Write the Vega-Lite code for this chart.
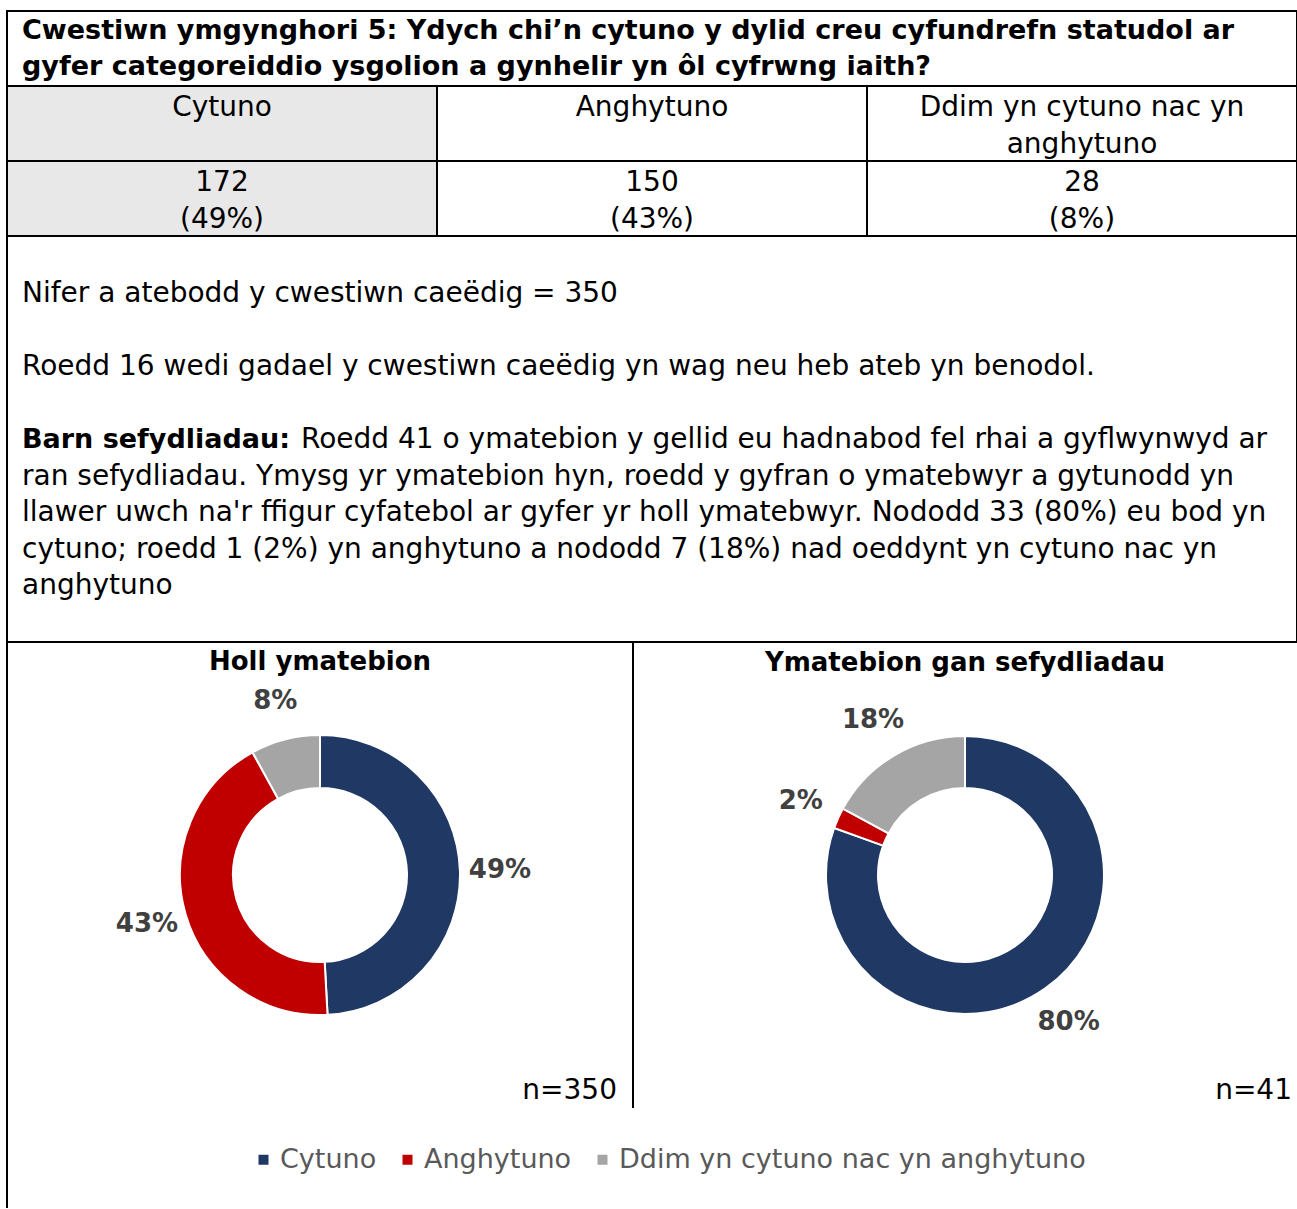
{
  "$schema": "https://vega.github.io/schema/vega-lite/v6.json",
  "padding": {"left": 5, "top": 10, "right": 0, "bottom": 0},
  "spacing": 0,
  "bounds": "flush",
  "config": {"font": "DejaVu Sans", "view": {"stroke": null}, "concat": {"spacing": 0}},
  "resolve": {"legend": {"color": "independent"}},
  "datasets": {
    "title": [
      {"line": 0, "text": "Cwestiwn ymgynghori 5: Ydych chi’n cytuno y dylid creu cyfundrefn statudol ar"},
      {"line": 1, "text": "gyfer categoreiddio ysgolion a gynhelir yn ôl cyfrwng iaith?"}
    ],
    "table": [
      {"row": "pennawd", "col": "Cytuno", "label": "Cytuno"},
      {"row": "pennawd", "col": "Anghytuno", "label": "Anghytuno"},
      {"row": "pennawd", "col": "Ddim yn cytuno nac yn anghytuno", "label": "Ddim yn cytuno nac yn\nanghytuno"},
      {"row": "gwerth", "col": "Cytuno", "label": "172\n(49%)"},
      {"row": "gwerth", "col": "Anghytuno", "label": "150\n(43%)"},
      {"row": "gwerth", "col": "Ddim yn cytuno nac yn anghytuno", "label": "28\n(8%)"}
    ],
    "para": [
      {"line": 0, "kind": "plain", "text": "Nifer a atebodd y cwestiwn caeëdig = 350"},
      {"line": 2, "kind": "plain", "text": "Roedd 16 wedi gadael y cwestiwn caeëdig yn wag neu heb ateb yn benodol."},
      {"line": 4, "kind": "lead", "text": "Barn sefydliadau:"},
      {"line": 4, "kind": "after-lead", "text": "Roedd 41 o ymatebion y gellid eu hadnabod fel rhai a gyflwynwyd ar"},
      {"line": 5, "kind": "plain", "text": "ran sefydliadau. Ymysg yr ymatebion hyn, roedd y gyfran o ymatebwyr a gytunodd yn"},
      {"line": 6, "kind": "plain", "text": "llawer uwch na'r ffigur cyfatebol ar gyfer yr holl ymatebwyr. Nododd 33 (80%) eu bod yn"},
      {"line": 7, "kind": "plain", "text": "cytuno; roedd 1 (2%) yn anghytuno a nododd 7 (18%) nad oeddynt yn cytuno nac yn"},
      {"line": 8, "kind": "plain", "text": "anghytuno"}
    ],
    "all": [
      {"cat": "Cytuno", "idx": 1, "n": 172, "pct": "49%"},
      {"cat": "Anghytuno", "idx": 2, "n": 150, "pct": "43%"},
      {"cat": "Ddim yn cytuno nac yn anghytuno", "idx": 3, "n": 28, "pct": "8%"}
    ],
    "org": [
      {"cat": "Cytuno", "idx": 1, "n": 33, "pct": "80%"},
      {"cat": "Anghytuno", "idx": 2, "n": 1, "pct": "2%"},
      {"cat": "Ddim yn cytuno nac yn anghytuno", "idx": 3, "n": 7, "pct": "18%"}
    ]
  },
  "vconcat": [
    {
      "width": 1290, "height": 75,
      "view": {"stroke": "black", "strokeWidth": 2},
      "data": {"name": "title"},
      "mark": {"type": "text", "align": "left", "baseline": "middle", "fontSize": 27, "fontWeight": "bold", "dx": 15, "color": "black"},
      "encoding": {
        "x": {"value": 0},
        "y": {"field": "line", "type": "quantitative", "scale": {"domain": [-0.556, 1.528], "reverse": true, "nice": false, "zero": false}, "axis": null},
        "text": {"field": "text"}
      }
    },
    {
      "width": 1290, "height": 150,
      "view": {"stroke": "black", "strokeWidth": 2},
      "data": {"name": "table"},
      "encoding": {
        "x": {"field": "col", "type": "ordinal", "sort": ["Cytuno", "Anghytuno", "Ddim yn cytuno nac yn anghytuno"], "scale": {"paddingInner": 0, "paddingOuter": 0}, "axis": null},
        "y": {"field": "row", "type": "ordinal", "sort": ["pennawd", "gwerth"], "scale": {"paddingInner": 0, "paddingOuter": 0}, "axis": null}
      },
      "layer": [
        {
          "mark": {"type": "rect", "stroke": "black", "strokeWidth": 2},
          "encoding": {
            "fill": {"field": "col", "type": "nominal", "scale": {"domain": ["Cytuno", "Anghytuno", "Ddim yn cytuno nac yn anghytuno"], "range": ["#E8E8E8", "#FFFFFF", "#FFFFFF"]}, "legend": null}
          }
        },
        {
          "mark": {"type": "text", "baseline": "alphabetic", "dy": 30, "fontSize": 28, "lineBreak": "\n", "lineHeight": 37, "color": "black"},
          "encoding": {
            "y": {"field": "row", "type": "ordinal", "sort": ["pennawd", "gwerth"], "bandPosition": 0, "axis": null},
            "text": {"field": "label"}
          }
        }
      ]
    },
    {
      "width": 1290, "height": 406,
      "view": {"stroke": "black", "strokeWidth": 2},
      "data": {"name": "para"},
      "encoding": {
        "x": {"value": 0},
        "y": {"field": "line", "type": "quantitative", "scale": {"domain": [-1.589, 9.534], "reverse": true, "nice": false, "zero": false}, "axis": null},
        "text": {"field": "text"}
      },
      "layer": [
        {"transform": [{"filter": "datum.kind == 'plain'"}], "mark": {"type": "text", "align": "left", "baseline": "middle", "fontSize": 28, "dx": 15, "color": "black"}},
        {"transform": [{"filter": "datum.kind == 'lead'"}], "mark": {"type": "text", "align": "left", "baseline": "middle", "fontSize": 27, "fontWeight": "bold", "dx": 15, "color": "black"}},
        {"transform": [{"filter": "datum.kind == 'after-lead'"}], "mark": {"type": "text", "align": "left", "baseline": "middle", "fontSize": 28, "dx": 294, "color": "black"}}
      ]
    },
    {
      "spacing": 0,
      "bounds": "flush",
      "resolve": {"legend": {"color": "independent"}},
      "hconcat": [
        {
          "width": 626, "height": 466,
          "title": {"text": "Holl ymatebion", "fontSize": 26, "fontWeight": "bold", "color": "black", "anchor": "middle", "offset": -34},
          "layer": [
            {
              "data": {"name": "all"},
              "mark": {"type": "arc", "innerRadius": 87, "outerRadius": 140, "stroke": "white", "strokeWidth": 2},
              "encoding": {
                "theta": {"field": "n", "type": "quantitative", "stack": true},
                "order": {"field": "idx", "type": "quantitative"},
                "color": {
                  "field": "cat", "type": "nominal",
                  "scale": {"domain": ["Cytuno", "Anghytuno", "Ddim yn cytuno nac yn anghytuno"], "range": ["#203864", "#C00000", "#A5A5A5"]},
                  "legend": {"title": null, "orient": "none", "legendX": 243, "legendY": 504, "direction": "horizontal", "symbolType": "square", "symbolSize": 100, "symbolOpacity": 1, "symbolStrokeWidth": 0, "labelFontSize": 27, "labelColor": "#595959", "labelLimit": 700, "labelOffset": 3, "columnPadding": 17}
                }
              }
            },
            {
              "data": {"name": "all"},
              "mark": {"type": "text", "radius": 180, "fontSize": 26, "fontWeight": "bold", "color": "#404040"},
              "encoding": {
                "theta": {"field": "n", "type": "quantitative", "stack": true},
                "order": {"field": "idx", "type": "quantitative"},
                "text": {"field": "pct"}
              }
            },
            {
              "data": {"values": [{"label": "n=350"}]},
              "mark": {"type": "text", "align": "right", "baseline": "middle", "fontSize": 28, "dx": -16, "dy": -17, "color": "black"},
              "encoding": {"x": {"value": "width"}, "y": {"value": "height"}, "text": {"field": "label"}}
            },
            {
              "data": {"values": [{"edge": "left"}]},
              "mark": {"type": "rule", "color": "black", "strokeWidth": 2},
              "encoding": {"x": {"value": 0}, "y": {"value": 0}, "y2": {"value": 566}}
            },
            {
              "data": {"values": [{"edge": "right"}]},
              "mark": {"type": "rule", "color": "black", "strokeWidth": 2},
              "encoding": {"x": {"value": "width"}, "y": {"value": 0}, "y2": {"value": "height"}}
            }
          ]
        },
        {
          "width": 664, "height": 466,
          "title": {"text": "Ymatebion gan sefydliadau", "fontSize": 26, "fontWeight": "bold", "color": "black", "anchor": "middle", "offset": -34},
          "layer": [
            {
              "data": {"name": "org"},
              "mark": {"type": "arc", "innerRadius": 87, "outerRadius": 139, "stroke": "white", "strokeWidth": 2},
              "encoding": {
                "theta": {"field": "n", "type": "quantitative", "stack": true},
                "order": {"field": "idx", "type": "quantitative"},
                "color": {"field": "cat", "type": "nominal", "scale": {"domain": ["Cytuno", "Anghytuno", "Ddim yn cytuno nac yn anghytuno"], "range": ["#203864", "#C00000", "#A5A5A5"]}, "legend": null}
              }
            },
            {
              "data": {"name": "org"},
              "mark": {"type": "text", "radius": 180, "fontSize": 26, "fontWeight": "bold", "color": "#404040"},
              "encoding": {
                "theta": {"field": "n", "type": "quantitative", "stack": true},
                "order": {"field": "idx", "type": "quantitative"},
                "text": {"field": "pct"}
              }
            },
            {
              "data": {"values": [{"label": "n=41"}]},
              "mark": {"type": "text", "align": "right", "baseline": "middle", "fontSize": 28, "dx": -5, "dy": -17, "color": "black"},
              "encoding": {"x": {"value": "width"}, "y": {"value": "height"}, "text": {"field": "label"}}
            }
          ]
        }
      ]
    }
  ]
}
